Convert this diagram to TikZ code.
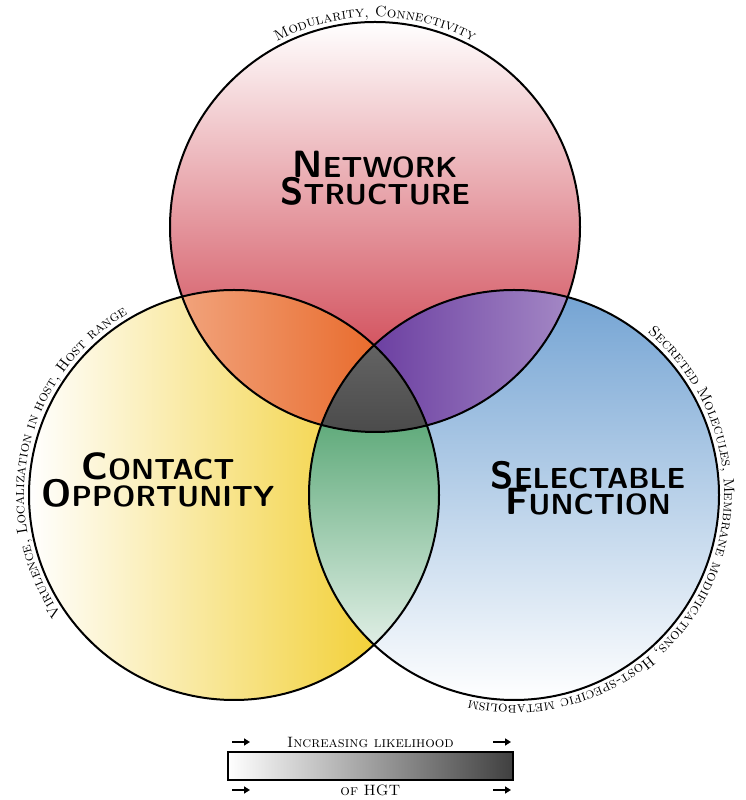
\documentclass[tikz,border=0pt]{standalone}
\usetikzlibrary{arrows.meta,decorations.text}
\definecolor{netred}{RGB}{200,40,55}
\definecolor{contyellow}{RGB}{240,200,20}
\definecolor{selblue}{RGB}{80,140,200}
\definecolor{mixorange}{RGB}{230,90,20}
\definecolor{mixpurple}{RGB}{90,40,150}
\definecolor{mixgreen}{RGB}{20,130,60}
\newcommand\bigsc[2]{{\fontsize{38}{40}\selectfont #1}{\fontsize{29}{32}\selectfont #2}}

\begin{document}
\begin{tikzpicture}[
  x=1pt, y=1pt,
  ring/.style={draw=black, line width=2pt},
  title/.style={font=\sffamily\bfseries, align=center},
  arclabel/.style={decorate, decoration={text along path, text align=center,
    text={#1}}},
  tip/.style={-{Triangle[length=6pt,width=7pt]}, line width=2.5pt}
]
\useasboundingbox (0,0) rectangle (745,800);

% circle centres
\coordinate (T) at (375,573);
\coordinate (L) at (234,305);
\coordinate (R) at (514,305);

% single circles
\shade[top color=white, bottom color=netred] (T) circle (205);
\shade[left color=white, right color=contyellow] (L) circle (205);
\shade[shading angle=-45, top color=selblue!80, bottom color=white] (R) circle (205);

% pairwise overlaps
\begin{scope}
  \clip (T) circle (205);
  \shade[left color=mixorange!30, right color=mixorange] (L) circle (205);
\end{scope}
\begin{scope}
  \clip (T) circle (205);
  \shade[left color=mixpurple, right color=mixpurple!30] (R) circle (205);
\end{scope}
\begin{scope}
  \clip (L) circle (205);
  \shade[top color=mixgreen, bottom color=white] (R) circle (205);
\end{scope}
\begin{scope}
  \clip (T) circle (205);
  \clip (L) circle (205);
  \shade[top color=black!55, bottom color=black] (R) circle (205);
\end{scope}

% outlines
\draw[ring] (T) circle (205);
\draw[ring] (L) circle (205);
\draw[ring] (R) circle (205);

% main labels
\node[title] (net) at (375,622) {\bigsc{N}{ETWORK}\\[-2pt]\bigsc{S}{TRUCTURE}};
\node[title] (cont) at (158,320) {\bigsc{C}{ONTACT}\\[-2pt]\bigsc{O}{PPORTUNITY}};
\node[title] (sel) at (588,312) {\bigsc{S}{ELECTABLE}\\[-2pt]\bigsc{F}{UNCTION}};

% curved labels
\path[arclabel={|\fontsize{15}{15}\selectfont\scshape|Modularity, Connectivity}]
  ([shift={(125:210)}]T) arc (125:55:210);
\path[arclabel={|\fontsize{15}{15}\selectfont\scshape|Virulence, Localization in host, Host range}]
  ([shift={(235:210)}]L) arc (235:100:210);
\path[arclabel={|\fontsize{15}{15}\selectfont\scshape|Secreted Molecules, Membrane modifications, Host-specific metabolism}]
  ([shift={(80:210)}]R) arc (80:-132:210);

% legend
\node[draw=black, line width=1.2pt, minimum width=285pt, minimum height=28pt,
  left color=white, right color=black!75, inner sep=0pt] (bar) at (370.5,34) {};
\node[font=\fontsize{15}{15}\selectfont\scshape] (inc) at (370.5,58) {Increasing likelihood};
\node[font=\fontsize{15}{15}\selectfont\scshape] (hgt) at (370.5,10) {of HGT};
\coordinate (a1) at (232,58); \coordinate (a2) at (250,58);
\coordinate (a3) at (493,58); \coordinate (a4) at (511,58);
\coordinate (a5) at (232,10); \coordinate (a6) at (250,10);
\coordinate (a7) at (493,10); \coordinate (a8) at (511,10);
\draw[tip] (a1) -- (a2);
\draw[tip] (a3) -- (a4);
\draw[tip] (a5) -- (a6);
\draw[tip] (a7) -- (a8);
\end{tikzpicture}
\end{document}
